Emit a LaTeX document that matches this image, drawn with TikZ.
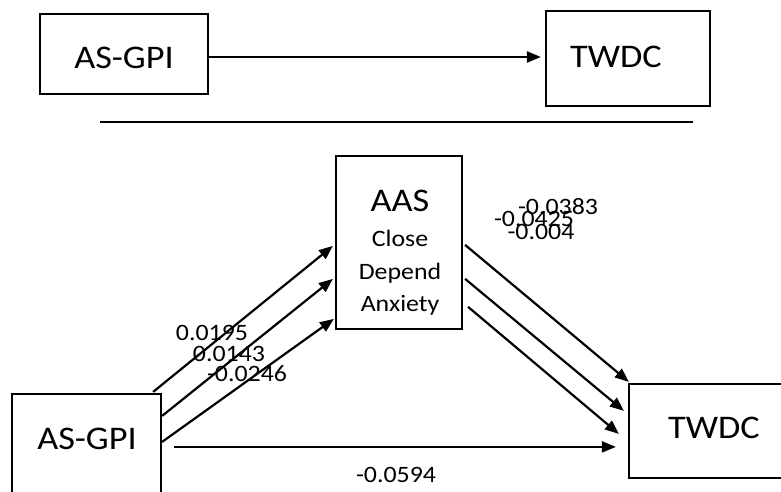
\documentclass[tikz,border=0pt]{standalone}
\usepackage{fontspec}
\setmainfont{Carlito}[FakeStretch=1.1]
\usetikzlibrary{arrows.meta,calc}
\newcommand\bigtxt{\fontsize{33}{36}\selectfont}
\newcommand\medtxt{\fontsize{23.5}{26}\selectfont}
\tikzset{
  box/.style={draw, line width=2.2pt, rectangle, inner sep=0pt},
  big/.style={anchor=base, inner sep=0pt, font=\bigtxt},
  med/.style={anchor=base, inner sep=0pt, font=\medtxt},
  conn/.style={line width=2.2pt, -{Triangle[length=14pt,width=11pt]}},
}
\begin{document}
\begin{tikzpicture}[x=1pt, y=-1pt]
\useasboundingbox (0,0) rectangle (781,491);
\clip (0,0) rectangle (781,491);

% --- simple model ---
\node[box, minimum width=168pt, minimum height=80pt] (ag1) at (124,54) {};
\node[big] (ag1t) at (124,68) {AS-GPI};
\node[box, minimum width=164pt, minimum height=95pt] (tw1) at (628,58.5) {};
\node[big] (tw1t) at (616,67) {TWDC};
\draw[conn] ($(ag1.east)+(0,3)$) -- ($(tw1.west)+(-4,-1.5)$);

% separator rule
\draw[line width=1.6pt] (100,122) -- (693,122);

% --- mediation model ---
\node[box, minimum width=126pt, minimum height=173pt] (aas) at (399,242.5) {};
\node[big] (aast) at (400,211) {AAS};
\node[med] (close) at (400,246) {Close};
\node[med] (depend) at (400,279) {Depend};
\node[med] (anx) at (400,311) {Anxiety};

\node[box, minimum width=149pt, minimum height=112pt] (ag2) at (86.5,450) {};
\node[big] (ag2t) at (87,449) {AS-GPI};
\node[box, minimum width=165pt, minimum height=94pt] (tw2) at (711.5,431) {};
\node[big] (tw2t) at (714,438) {TWDC};

% paths into the mediator
\draw[conn] ($(ag2.north east)+(-9,-1)$) -- ($(aas.north west)+(-2,91)$);
\draw[conn] ($(ag2.north east)+(0,23)$) -- ($(aas.north west)+(-2,124)$);
\draw[conn] ($(ag2.north east)+(0,49)$) -- ($(aas.north west)+(-1,164)$);

% paths out of the mediator
\draw[conn] ($(aas.north east)+(2,90)$) -- ($(tw2.north west)+(1,-1)$);
\draw[conn] ($(aas.north east)+(2,124)$) -- ($(tw2.north west)+(-4,28)$);
\draw[conn] ($(aas.north east)+(5,152)$) -- ($(tw2.north west)+(-9,51)$);

% direct path
\draw[conn] ($(ag2.north east)+(12,54)$) -- ($(tw2.north west)+(-12,64)$);

% coefficients
\node[med] (a1) at (212,340) {0.0195};
\node[med] (a2) at (229,361) {0.0143};
\node[med] (a3) at (247,381) {-0.0246};
\node[med] (b1) at (558,214) {-0.0383};
\node[med] (b2) at (534,226) {-0.0425};
\node[med] (b3) at (541,239) {-0.004};
\node[med] (c1) at (396,482) {-0.0594};
\end{tikzpicture}
\end{document}
